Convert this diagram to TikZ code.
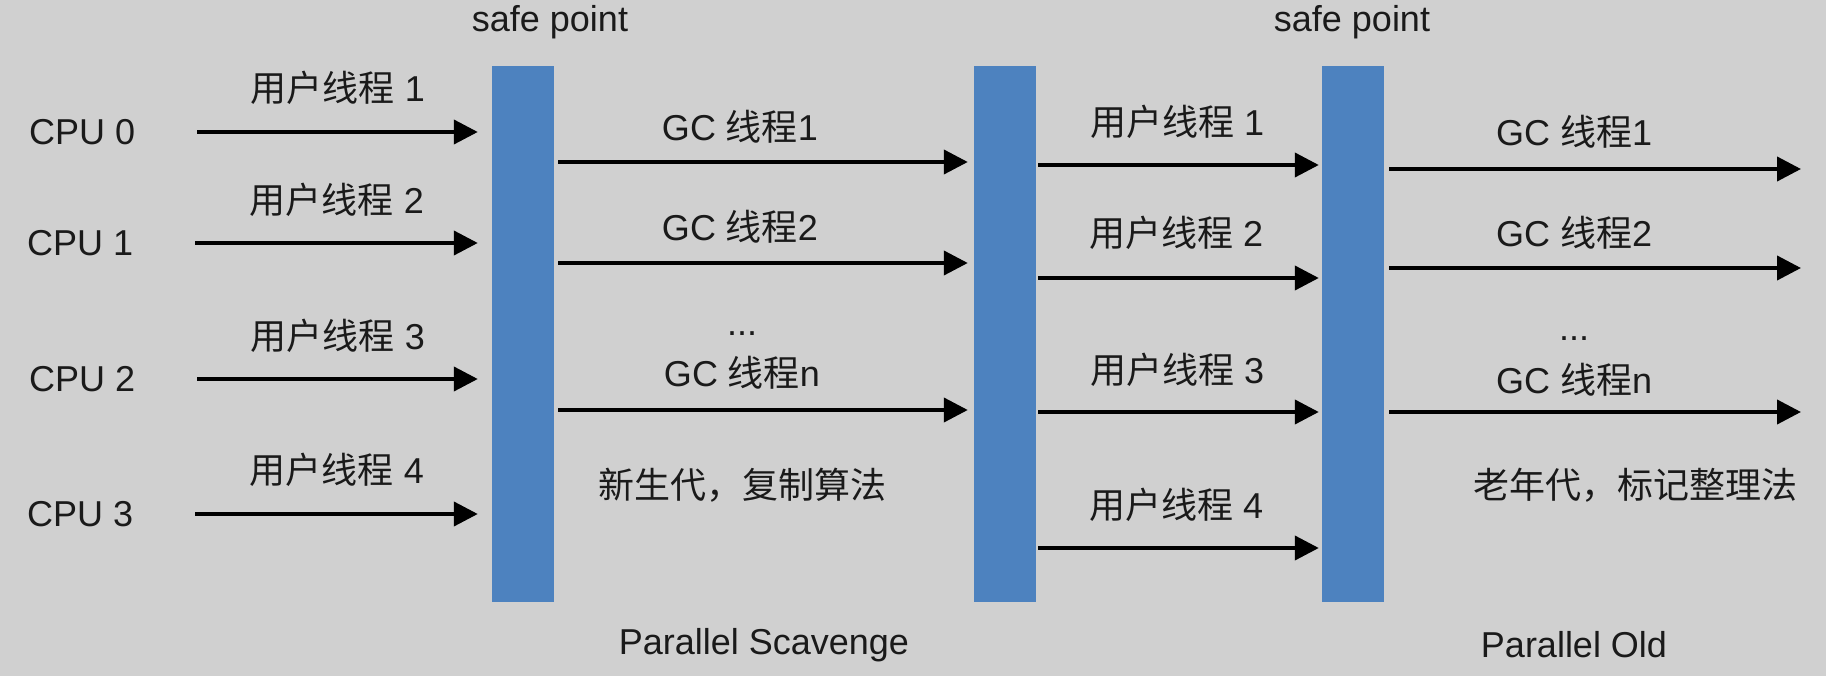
\documentclass[tikz,border=0pt]{standalone}
\usepackage{fontspec}
\setmainfont{Liberation Sans}
\newfontfamily\cjk{Noto Sans CJK SC}
\usetikzlibrary{arrows.meta}
\definecolor{bgc}{HTML}{D0D0D0}
\definecolor{barc}{HTML}{4D82BF}
\definecolor{txt}{HTML}{1A1A1A}
\begin{document}
\begin{tikzpicture}[x=1pt,y=-1pt,
  lbl/.style={font=\fontsize{36}{40}\selectfont, text=txt, inner sep=0pt},
  bar/.style={fill=barc, draw=none, minimum width=62pt, minimum height=536pt, inner sep=0pt},
  arr/.style={draw=black, line width=4pt, -{Triangle[length=24pt,width=24pt]}}]
\fill[bgc] (0,0) rectangle (1826,676);
\useasboundingbox (0,0) rectangle (1826,676);

% safe point bars
\node[bar] (b1) at (523,334) {};
\node[bar] (b2) at (1005,334) {};
\node[bar] (b3) at (1353,334) {};

\node[lbl,anchor=base] (sp1) at (550,32) {safe point};
\node[lbl,anchor=base] (sp2) at (1352,32) {safe point};

% CPUs
\node[lbl,anchor=west] (cpu0) at (29,132) {CPU 0};
\node[lbl,anchor=west] (cpu1) at (27,243) {CPU 1};
\node[lbl,anchor=west] (cpu2) at (29,379) {CPU 2};
\node[lbl,anchor=west] (cpu3) at (27,514) {CPU 3};

\coordinate (s0) at (197,132);
\coordinate (s1) at (195,243);
\coordinate (s2) at (197,379);
\coordinate (s3) at (195,514);
\foreach \i in {0,1,2,3}{
  \draw[arr, shorten >=14pt] (s\i) -- (b1.west |- s\i);
}
\node[lbl] (u1) at (338,88) {{\cjk 用户线程} 1};
\node[lbl] (u2) at (337,200) {{\cjk 用户线程} 2};
\node[lbl] (u3) at (338,336) {{\cjk 用户线程} 3};
\node[lbl] (u4) at (337,470) {{\cjk 用户线程} 4};

% GC threads (young)
\coordinate (g1) at (0,162);
\coordinate (g2) at (0,263);
\coordinate (g3) at (0,410);
\foreach \i in {1,2,3}{
  \draw[arr, shorten <=4pt, shorten >=6pt] (b1.east |- g\i) -- (b2.west |- g\i);
}
\node[lbl] (gc1) at (740,127) {GC {\cjk 线程}1};
\node[lbl] (gc2) at (740,227) {GC {\cjk 线程}2};
\node[lbl,anchor=base] (dots1) at (742,336) {...};
\node[lbl] (gcn) at (742,373) {GC {\cjk 线程}n};
\node[lbl] (young) at (742,485) {\cjk 新生代，复制算法};
\node[lbl] (ps) at (764,645) {Parallel Scavenge};

% user threads (second)
\coordinate (v1) at (0,165);
\coordinate (v2) at (0,278);
\coordinate (v3) at (0,412);
\coordinate (v4) at (0,548);
\foreach \i in {1,2,3,4}{
  \draw[arr, shorten <=2pt, shorten >=3pt] (b2.east |- v\i) -- (b3.west |- v\i);
}
\node[lbl] (w1) at (1177,122) {{\cjk 用户线程} 1};
\node[lbl] (w2) at (1176,233) {{\cjk 用户线程} 2};
\node[lbl] (w3) at (1177,370) {{\cjk 用户线程} 3};
\node[lbl] (w4) at (1176,505) {{\cjk 用户线程} 4};

% GC threads (old)
\coordinate (e1) at (1801,169);
\coordinate (e2) at (1801,268);
\coordinate (e3) at (1801,412);
\foreach \i in {1,2,3}{
  \draw[arr, shorten <=5pt] (b3.east |- e\i) -- (e\i);
}
\node[lbl] (hc1) at (1574,132) {GC {\cjk 线程}1};
\node[lbl] (hc2) at (1574,233) {GC {\cjk 线程}2};
\node[lbl,anchor=base] (dots2) at (1574,341) {...};
\node[lbl] (hcn) at (1574,380) {GC {\cjk 线程}n};
\node[lbl] (old) at (1635,485) {\cjk 老年代，标记整理法};
\node[lbl] (po) at (1574,645) {Parallel Old};
\end{tikzpicture}
\end{document}
